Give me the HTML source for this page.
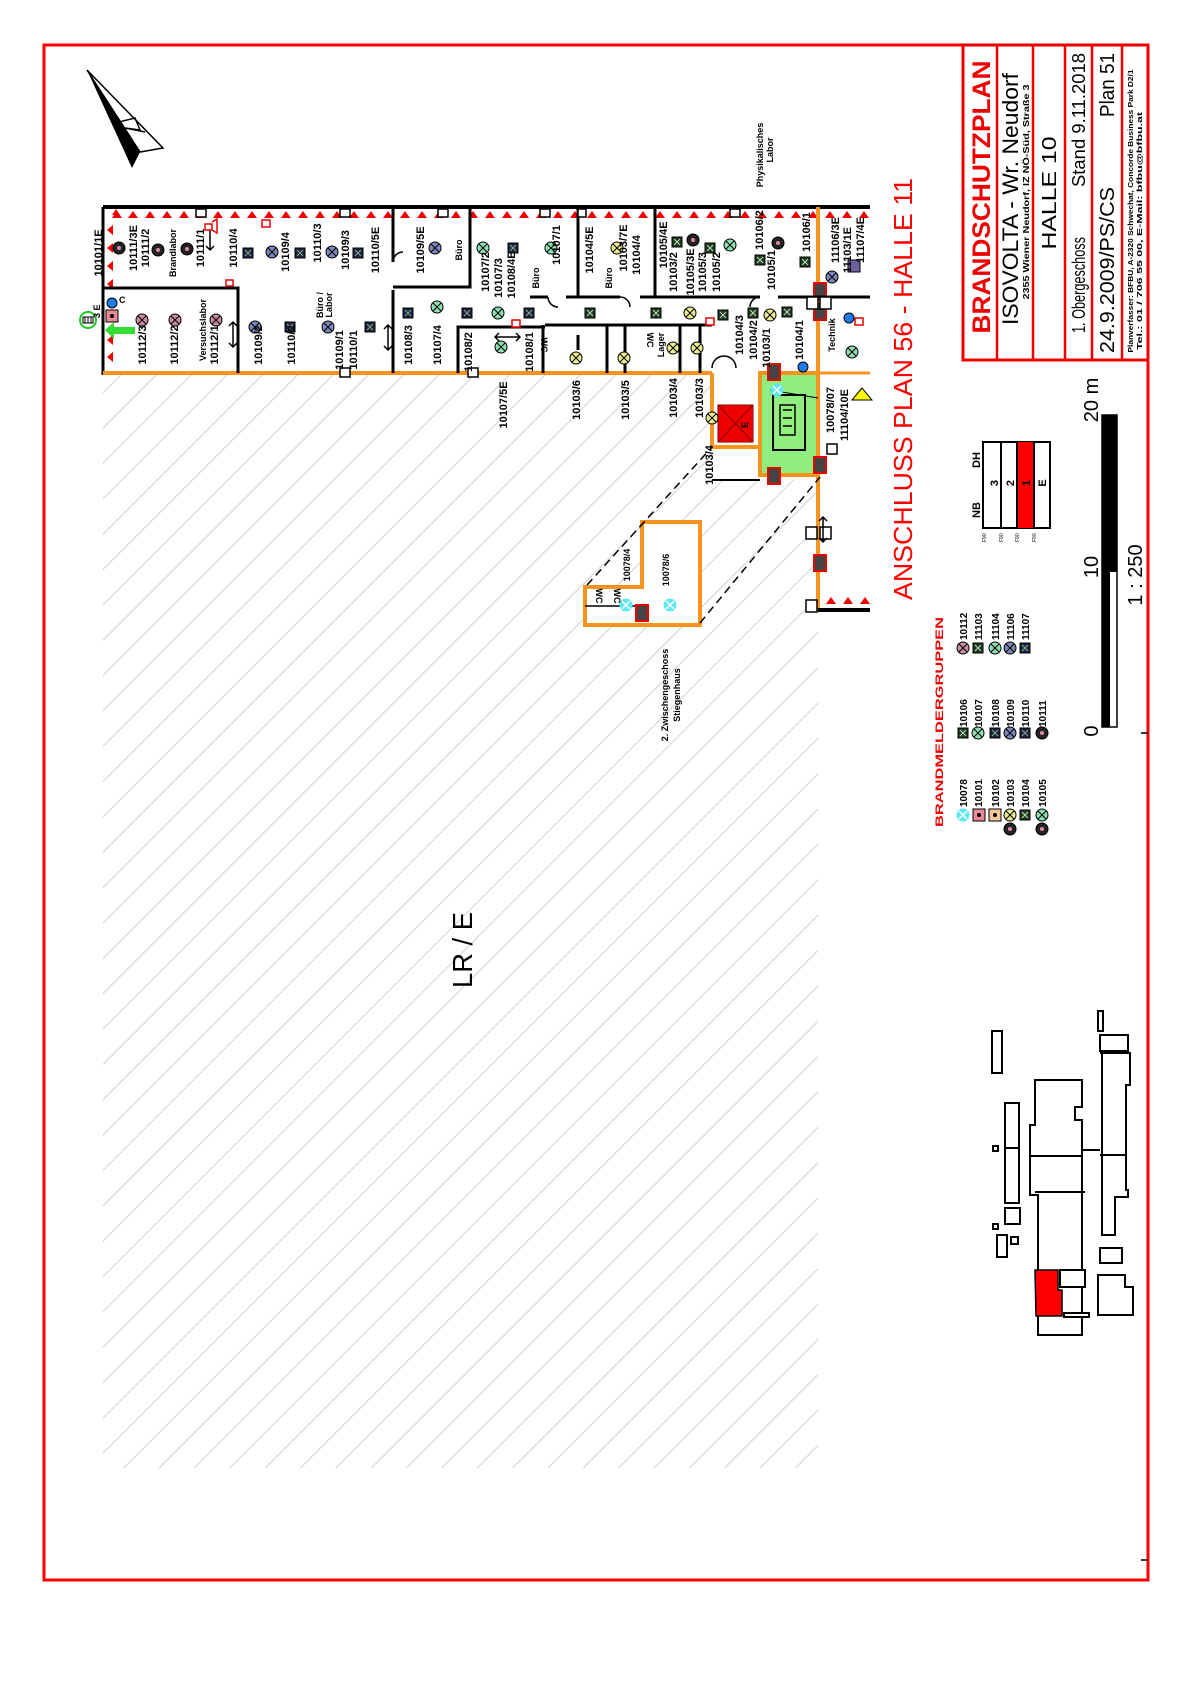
<!DOCTYPE html>
<html><head><meta charset="utf-8"><style>
html,body{margin:0;padding:0;background:#fff}
svg{display:block}
text{font-family:"Liberation Sans",sans-serif}
.l{font-size:11px;font-weight:bold;fill:#000}
.s{font-size:9px;font-weight:bold;fill:#000}
</style></head><body>
<svg width="1191" height="1684" viewBox="0 0 1191 1684" xmlns="http://www.w3.org/2000/svg">
<defs>
<pattern id="h" width="25" height="25" patternUnits="userSpaceOnUse" patternTransform="rotate(45)">
<line x1="0" y1="0" x2="0" y2="25" stroke="#d0d0d0" stroke-width="2"/>
</pattern>
<clipPath id="hc"><polygon points="103,373 712,373 712,480 818,480 818,1468 103,1468"/></clipPath>
<g id="sq"><rect x="-5" y="-5" width="10" height="10" fill="#1c2340" stroke="#000"/><path d="M-3,-3L3,3M3,-3L-3,3" stroke="#8a8" stroke-width="1"/></g>
<g id="sqg"><rect x="-5" y="-5" width="10" height="10" fill="#1f3a1f" stroke="#000"/><path d="M-3,-3L3,3M3,-3L-3,3" stroke="#bdb" stroke-width="1"/></g>
<g id="cb"><circle r="6" fill="#7c86b8" stroke="#000"/><path d="M-4,-4L4,4M4,-4L-4,4" stroke="#000"/></g>
<g id="cp"><circle r="6" fill="#c88aa0" stroke="#000"/><path d="M-4,-4L4,4M4,-4L-4,4" stroke="#000"/></g>
<g id="cg"><circle r="6" fill="#8fdcb0" stroke="#000"/><path d="M-4,-4L4,4M4,-4L-4,4" stroke="#000"/></g>
<g id="cy"><circle r="6" fill="#eaea90" stroke="#000"/><path d="M-4,-4L4,4M4,-4L-4,4" stroke="#000"/></g>
<g id="cc"><circle r="6" fill="#5ee8f0" stroke="#5ee8f0"/><path d="M-4,-4L4,4M4,-4L-4,4" stroke="#fff" stroke-width="1.5"/></g>
<g id="cd"><circle r="6" fill="#222" stroke="#000"/><circle r="2" fill="#d8a"/></g>
<g id="rb"><rect x="-6" y="-8" width="12" height="16" fill="#444" stroke="#e00" stroke-width="2"/></g>
</defs>

<!-- outer frame -->
<rect x="44" y="45" width="1104" height="1535" fill="none" stroke="#f00" stroke-width="3"/>

<!-- hatch -->
<rect x="103" y="373" width="717" height="1095" fill="url(#h)" clip-path="url(#hc)"/>
<rect x="585" y="587" width="115" height="38" fill="#fff"/>
<rect x="642" y="522" width="58" height="103" fill="#fff"/>
<rect x="712" y="447" width="48" height="33" fill="#fff"/>

<!-- north arrow -->
<polygon points="87,70 132,168 140,152 125,120" fill="#000"/>
<polygon points="87,70 163,148 140,152" fill="#fff" stroke="#000" stroke-width="1.5"/>
<path d="M115,123 L135,118 L140,130 L125,128 L145,132" fill="none" stroke="#000" stroke-width="1.5"/>

<!-- building main walls -->
<rect x="103" y="207" width="767" height="166" fill="#fff"/>
<line x1="103" y1="207" x2="870" y2="207" stroke="#000" stroke-width="4"/>
<line x1="103" y1="207" x2="103" y2="375" stroke="#000" stroke-width="3"/>
<g fill="#f00">
<polygon points="112,215 120,215 116,209" transform="translate(0,0)"/>
</g>
<!-- red triangles top -->
<g fill="#e00">
<path d="M112,218 l5,-7 l5,7z M128,218 l5,-7 l5,7z M145,218 l5,-7 l5,7z M162,218 l5,-7 l5,7z M179,218 l5,-7 l5,7z M196,218 l5,-7 l5,7z M213,218 l5,-7 l5,7z M230,218 l5,-7 l5,7z M247,218 l5,-7 l5,7z M264,218 l5,-7 l5,7z M281,218 l5,-7 l5,7z M298,218 l5,-7 l5,7z M315,218 l5,-7 l5,7z M332,218 l5,-7 l5,7z M349,218 l5,-7 l5,7z M366,218 l5,-7 l5,7z M383,218 l5,-7 l5,7z M400,218 l5,-7 l5,7z M417,218 l5,-7 l5,7z M434,218 l5,-7 l5,7z M451,218 l5,-7 l5,7z M468,218 l5,-7 l5,7z M485,218 l5,-7 l5,7z M502,218 l5,-7 l5,7z M519,218 l5,-7 l5,7z M536,218 l5,-7 l5,7z M553,218 l5,-7 l5,7z M570,218 l5,-7 l5,7z M587,218 l5,-7 l5,7z M604,218 l5,-7 l5,7z M621,218 l5,-7 l5,7z M638,218 l5,-7 l5,7z M655,218 l5,-7 l5,7z M672,218 l5,-7 l5,7z M689,218 l5,-7 l5,7z M706,218 l5,-7 l5,7z M723,218 l5,-7 l5,7z M740,218 l5,-7 l5,7z M757,218 l5,-7 l5,7z M774,218 l5,-7 l5,7z M791,218 l5,-7 l5,7z M808,218 l5,-7 l5,7z M825,218 l5,-7 l5,7z M842,218 l5,-7 l5,7z M859,218 l5,-7 l5,7z"/>
<path d="M113,225 l-6,5 l6,5z M113,243 l-6,5 l6,5z M113,261 l-6,5 l6,5z M113,279 l-6,5 l6,5z M113,335 l-6,5 l6,5z M113,352 l-6,5 l6,5z"/>
<path d="M826,604 l5,-7 l5,7z M843,604 l5,-7 l5,7z M860,604 l5,-7 l5,7z"/>
</g>
<line x1="103" y1="373" x2="712" y2="373" stroke="#f7941d" stroke-width="4"/>
<line x1="818" y1="207" x2="818" y2="612" stroke="#f7941d" stroke-width="4"/>
<line x1="820" y1="373" x2="870" y2="373" stroke="#f7941d" stroke-width="3"/>
<line x1="712" y1="373" x2="712" y2="449" stroke="#f7941d" stroke-width="4"/>
<line x1="712" y1="447" x2="760" y2="447" stroke="#f7941d" stroke-width="4"/>
<line x1="712" y1="480" x2="760" y2="480" stroke="#000" stroke-width="2"/>
<line x1="818" y1="610" x2="870" y2="610" stroke="#000" stroke-width="4"/>
<!-- stair -->
<rect x="760" y="373" width="58" height="102" fill="#90ee80" stroke="#f7941d" stroke-width="4"/>
<rect x="773" y="395" width="32" height="55" fill="none" stroke="#000" stroke-width="2"/>
<path d="M780,405 h15 v30 h-15 z M783,410 h9 M783,418 h9 M783,426 h9" fill="none" stroke="#000" stroke-width="1.5"/>
<line x1="770" y1="390" x2="818" y2="398" stroke="#000"/>
<use href="#cc" x="777" y="390"/>
<rect x="718" y="405" width="35" height="37" fill="#e00" stroke="#800"/>
<path d="M718,405 L753,442 M753,405 L718,442" stroke="#800"/>
<text class="s" transform="translate(748,425) rotate(-90)" text-anchor="middle">E</text>
<use href="#cy" x="712" y="418"/>
<use href="#rb" x="774" y="372"/>
<use href="#rb" x="774" y="476"/>
<use href="#rb" x="820" y="465"/>
<use href="#rb" x="820" y="563"/>
<use href="#rb" x="820" y="291"/>
<use href="#rb" x="820" y="312"/>
<!-- doors right -->
<rect x="806" y="527" width="11" height="12" fill="#fff" stroke="#000" stroke-width="1.5"/>
<rect x="820" y="527" width="11" height="12" fill="#fff" stroke="#000" stroke-width="1.5"/>
<rect x="806" y="600" width="11" height="12" fill="#fff" stroke="#000" stroke-width="1.5"/>
<rect x="827" y="444" width="10" height="10" fill="#fff" stroke="#000" stroke-width="1.5"/>
<polygon points="862,388 852,400 872,400" fill="#ff0" stroke="#000"/>

<!-- zwischengeschoss -->
<path d="M642,522 H700 V625 H585 V587 H642 Z" fill="#fff" stroke="#f7941d" stroke-width="4"/>
<line x1="585" y1="606" x2="642" y2="606" stroke="#000" stroke-width="1.5"/>
<line x1="587" y1="585" x2="712" y2="447" stroke="#000" stroke-width="1.5" stroke-dasharray="8,5"/>
<line x1="700" y1="623" x2="820" y2="477" stroke="#000" stroke-width="1.5" stroke-dasharray="8,5"/>
<use href="#cc" x="626" y="605"/>
<use href="#cc" x="670" y="605"/>
<use href="#rb" x="642" y="613"/>
<text class="s" transform="translate(596,596) rotate(90)" text-anchor="middle">WC</text>
<text class="s" transform="translate(614,596) rotate(90)" text-anchor="middle">WC</text>
<text class="s" transform="translate(669,570) rotate(-90)" text-anchor="middle">10078/6</text>
<text class="s" transform="translate(630,565) rotate(-90)" text-anchor="middle">10078/4</text>
<text class="s" transform="translate(668,695) rotate(-90)" text-anchor="middle">2. Zwischengeschoss</text>
<text class="s" transform="translate(680,695) rotate(-90)" text-anchor="middle">Stiegenhaus</text>

<!-- interior walls -->
<g stroke="#000" stroke-width="3" fill="none">
<path d="M103,288 H238 V373"/>
<path d="M393,207 V262 M393,290 V373"/>
<path d="M393,287 H470 V207"/>
<path d="M458,373 V327 H545"/>
<path d="M578,207 V297"/>
<path d="M530,297 H548 M566,297 H620 M640,297 H760"/>
<path d="M655,207 V297"/>
<path d="M545,325 H712"/>
<path d="M543,325 V373 M607,325 V373 M625,325 V373 M680,325 V373 M700,325 V373"/>
<path d="M778,297 H870"/>
<path d="M578,335 V350"/>
</g>
<g fill="#fff" stroke="#000" stroke-width="1.5">
<rect x="340" y="368" width="10" height="9"/><rect x="468" y="368" width="10" height="9"/>
<rect x="196" y="209" width="10" height="8"/><rect x="340" y="209" width="10" height="8"/>
<rect x="438" y="209" width="10" height="8"/><rect x="540" y="209" width="10" height="8"/>
<rect x="578" y="209" width="8" height="8"/><rect x="730" y="209" width="10" height="8"/>
<rect x="807" y="297" width="11" height="12"/><rect x="820" y="297" width="11" height="12"/>
</g>
<!-- door arrows -->
<g stroke="#000" stroke-width="1.5" fill="none">
<path d="M210,225 v25 M206,229 l4,-4 4,4 M206,246 l4,4 4,-4"/>
<path d="M233,322 v25 M229,326 l4,-4 4,4 M229,343 l4,4 4,-4"/>
<path d="M388,325 v25 M384,329 l4,-4 4,4 M384,346 l4,4 4,-4"/>
<path d="M495,337 h25 M499,333 l-4,4 4,4 M516,333 l4,4 -4,4"/>
<path d="M823,517 v25 M819,521 l4,-4 4,4 M819,538 l4,4 4,-4"/>
<path d="M712,368 a12,12 0 0 1 12,-12 M736,368 a12,12 0 0 0 -12,-12"/>
<path d="M548,297 a10,10 0 0 0 10,10 M620,297 a10,10 0 0 1 10,10 M760,297 a10,10 0 0 0 -10,10"/>
<path d="M393,262 a10,10 0 0 1 10,-10"/>
</g>
<!-- horns -->
<g fill="#fff" stroke="#e00" stroke-width="1.5">
<path d="M205,224 h7 v6 h-7z M212,222 l5,-3 v14 l-5,-3"/>
<path d="M226,280 h7 v6 h-7z"/>
<path d="M262,220 h8 v7 h-8z"/>
<path d="M512,320 h8 v7 h-8z"/>
<path d="M706,318 h8 v7 h-8z"/>
<path d="M855,318 h8 v7 h-8z"/>
</g>

<!-- exit symbols -->
<circle cx="88" cy="320" r="8" fill="#fff" stroke="#2c2" stroke-width="2"/>
<path d="M83,317 h10 v6 h-10z M85,317 v6 M88,317 v6 M91,317 v6" stroke="#000" fill="none"/>
<circle cx="112" cy="303" r="5" fill="#1e7be8" stroke="#000"/>
<rect x="106" y="310" width="12" height="12" fill="#e8899a" stroke="#000"/>
<circle cx="112" cy="316" r="2" fill="#000"/>
<polygon points="105,330 114,322 114,327 135,327 135,334 114,334 114,339" fill="#3d3"/>
<text class="s" transform="translate(119,303)">C</text>
<text class="s" transform="translate(100,318) rotate(-90)">3 E</text>

<!-- detectors -->
<use href="#cd" x="119" y="248"/><use href="#cd" x="158" y="250"/><use href="#cd" x="187" y="249"/>
<use href="#sq" x="248" y="253"/><use href="#sq" x="300" y="253"/><use href="#sq" x="358" y="253"/>
<use href="#sq" x="290" y="327"/><use href="#sq" x="370" y="327"/><use href="#sq" x="408" y="313"/>
<use href="#sq" x="467" y="313"/><use href="#sq" x="529" y="313"/><use href="#sq" x="513" y="248"/>
<use href="#cb" x="272" y="252"/><use href="#cb" x="332" y="252"/><use href="#cb" x="255" y="327"/>
<use href="#cb" x="328" y="327"/><use href="#cb" x="435" y="248"/>
<use href="#cp" x="142" y="320"/><use href="#cp" x="175" y="320"/><use href="#cp" x="216" y="320"/>
<use href="#cg" x="483" y="248"/><use href="#cg" x="437" y="307"/><use href="#cg" x="498" y="313"/><use href="#cg" x="501" y="347"/>
<use href="#cg" x="551" y="248"/><use href="#cy" x="617" y="248"/>
<use href="#sqg" x="590" y="313"/><use href="#sqg" x="656" y="313"/><use href="#cy" x="690" y="313"/>
<use href="#sqg" x="723" y="315"/><use href="#sqg" x="753" y="313"/><use href="#cy" x="770" y="315"/><use href="#sqg" x="787" y="312"/>
<use href="#sqg" x="677" y="242"/><use href="#sqg" x="710" y="248"/><use href="#sqg" x="760" y="260"/><use href="#sqg" x="805" y="262"/>
<use href="#cd" x="693" y="240"/><use href="#cg" x="730" y="245"/><use href="#cd" x="778" y="243"/>
<use href="#cy" x="576" y="358"/><use href="#cy" x="624" y="358"/><use href="#cy" x="673" y="348"/><use href="#cy" x="697" y="348"/>
<use href="#cg" x="852" y="352"/><use href="#cb" x="832" y="277"/>
<rect x="848" y="260" width="12" height="12" fill="#7060a0" stroke="#000"/>
<circle cx="849" cy="318" r="5" fill="#1e7be8" stroke="#000"/>
<circle cx="803" cy="367" r="5" fill="#1e7be8" stroke="#000"/>

<!-- room labels -->
<g class="l">
<text class="l" transform="translate(102,253) rotate(-90)" text-anchor="middle">10101/1E</text>
<text class="l" transform="translate(137,248) rotate(-90)" text-anchor="middle">10111/3E</text>
<text class="l" transform="translate(149,248) rotate(-90)" text-anchor="middle">10111/2</text>
<text class="s" transform="translate(176,253) rotate(-90)" text-anchor="middle">Brandlabor</text>
<text class="l" transform="translate(204,248) rotate(-90)" text-anchor="middle">10111/1</text>
<text class="l" transform="translate(237,248) rotate(-90)" text-anchor="middle">10110/4</text>
<text class="l" transform="translate(289,252) rotate(-90)" text-anchor="middle">10109/4</text>
<text class="l" transform="translate(321,243) rotate(-90)" text-anchor="middle">10110/3</text>
<text class="l" transform="translate(349,250) rotate(-90)" text-anchor="middle">10109/3</text>
<text class="l" transform="translate(379,250) rotate(-90)" text-anchor="middle">10110/5E</text>
<text class="l" transform="translate(424,250) rotate(-90)" text-anchor="middle">10109/5E</text>
<text class="s" transform="translate(462,250) rotate(-90)" text-anchor="middle">Büro</text>
<text class="l" transform="translate(489,272) rotate(-90)" text-anchor="middle">10107/2</text>
<text class="l" transform="translate(502,278) rotate(-90)" text-anchor="middle">10107/3</text>
<text class="l" transform="translate(515,275) rotate(-90)" text-anchor="middle">10108/4E</text>
<text class="s" transform="translate(539,278) rotate(-90)" text-anchor="middle">Büro</text>
<text class="l" transform="translate(560,245) rotate(-90)" text-anchor="middle">10107/1</text>
<text class="l" transform="translate(593,250) rotate(-90)" text-anchor="middle">10104/5E</text>
<text class="s" transform="translate(612,278) rotate(-90)" text-anchor="middle">Büro</text>
<text class="l" transform="translate(627,248) rotate(-90)" text-anchor="middle">10103/7E</text>
<text class="l" transform="translate(640,255) rotate(-90)" text-anchor="middle">10104/4</text>
<text class="l" transform="translate(667,245) rotate(-90)" text-anchor="middle">10105/4E</text>
<text class="l" transform="translate(677,272) rotate(-90)" text-anchor="middle">10103/2</text>
<text class="l" transform="translate(694,272) rotate(-90)" text-anchor="middle">10105/3E</text>
<text class="l" transform="translate(706,272) rotate(-90)" text-anchor="middle">10105/3</text>
<text class="l" transform="translate(720,272) rotate(-90)" text-anchor="middle">10105/2</text>
<text class="l" transform="translate(763,230) rotate(-90)" text-anchor="middle">10106/2</text>
<text class="l" transform="translate(775,270) rotate(-90)" text-anchor="middle">10105/1</text>
<text class="l" transform="translate(810,232) rotate(-90)" text-anchor="middle">10106/1</text>
<text class="s" transform="translate(763,155) rotate(-90)" text-anchor="middle">Physikalisches</text>
<text class="s" transform="translate(773,150) rotate(-90)" text-anchor="middle">Labor</text>
<text class="l" transform="translate(839,240) rotate(-90)" text-anchor="middle">11106/3E</text>
<text class="l" transform="translate(851,250) rotate(-90)" text-anchor="middle">11103/1E</text>
<text class="l" transform="translate(864,240) rotate(-90)" text-anchor="middle">11107/4E</text>
<text class="l" transform="translate(146,345) rotate(-90)" text-anchor="middle">10112/3</text>
<text class="l" transform="translate(178,345) rotate(-90)" text-anchor="middle">10112/2</text>
<text class="s" transform="translate(206,330) rotate(-90)" text-anchor="middle">Versuchslabor</text>
<text class="l" transform="translate(218,345) rotate(-90)" text-anchor="middle">10112/1</text>
<text class="l" transform="translate(262,345) rotate(-90)" text-anchor="middle">10109/2</text>
<text class="l" transform="translate(295,345) rotate(-90)" text-anchor="middle">10110/2</text>
<text class="s" transform="translate(323,305) rotate(-90)" text-anchor="middle">Büro /</text>
<text class="s" transform="translate(332,305) rotate(-90)" text-anchor="middle">Labor</text>
<text class="l" transform="translate(343,350) rotate(-90)" text-anchor="middle">10109/1</text>
<text class="l" transform="translate(357,350) rotate(-90)" text-anchor="middle">10110/1</text>
<text class="l" transform="translate(412,345) rotate(-90)" text-anchor="middle">10108/3</text>
<text class="l" transform="translate(441,345) rotate(-90)" text-anchor="middle">10107/4</text>
<text class="l" transform="translate(472,352) rotate(-90)" text-anchor="middle">10108/2</text>
<text class="l" transform="translate(533,352) rotate(-90)" text-anchor="middle">10108/1</text>
<text class="l" transform="translate(507,405) rotate(-90)" text-anchor="middle">10107/5E</text>
<text class="l" transform="translate(580,400) rotate(-90)" text-anchor="middle">10103/6</text>
<text class="l" transform="translate(629,400) rotate(-90)" text-anchor="middle">10103/5</text>
<text class="l" transform="translate(677,398) rotate(-90)" text-anchor="middle">10103/4</text>
<text class="l" transform="translate(703,398) rotate(-90)" text-anchor="middle">10103/3</text>
<text class="l" transform="translate(713,465) rotate(-90)" text-anchor="middle">10103/4</text>
<text class="l" transform="translate(743,335) rotate(-90)" text-anchor="middle">10104/3</text>
<text class="l" transform="translate(757,340) rotate(-90)" text-anchor="middle">10104/2</text>
<text class="l" transform="translate(770,348) rotate(-90)" text-anchor="middle">10103/1</text>
<text class="l" transform="translate(803,340) rotate(-90)" text-anchor="middle">10104/1</text>
<text class="l" transform="translate(834,410) rotate(-90)" text-anchor="middle">10078/07</text>
<text class="l" transform="translate(848,415) rotate(-90)" text-anchor="middle">11104/10E</text>
<text class="s" transform="translate(835,335) rotate(-90)" text-anchor="middle">Technik</text>
</g>
<text class="s" transform="translate(541,345) rotate(90)" text-anchor="middle">WC</text>
<text class="s" transform="translate(647,340) rotate(90)" text-anchor="middle">WC</text>
<text class="s" transform="translate(664,345) rotate(-90)" text-anchor="middle">Lager</text>

<!-- ANSCHLUSS -->
<text transform="translate(912,389) rotate(-90)" text-anchor="middle" font-size="26" fill="#f00" textLength="422" lengthAdjust="spacingAndGlyphs">ANSCHLUSS  PLAN 56 - HALLE 11</text>

<!-- LR/E -->
<text transform="translate(472,950) rotate(-90)" text-anchor="middle" font-size="28" fill="#000" textLength="76" lengthAdjust="spacingAndGlyphs">LR / E</text>

<!-- title block -->
<rect x="963" y="45" width="185" height="315" fill="#fff" stroke="#e00" stroke-width="3"/>
<g stroke="#e00" stroke-width="2.5">
<line x1="997" y1="45" x2="997" y2="360"/><line x1="1033" y1="45" x2="1033" y2="360"/>
<line x1="1065" y1="45" x2="1065" y2="360"/><line x1="1092" y1="45" x2="1092" y2="360"/>
<line x1="1122" y1="45" x2="1122" y2="360"/>
</g>
<text transform="translate(990,197) rotate(-90)" text-anchor="middle" font-size="25" font-weight="bold" fill="#e00" textLength="273" lengthAdjust="spacingAndGlyphs">BRANDSCHUTZPLAN</text>
<text transform="translate(1018,199) rotate(-90)" text-anchor="middle" font-size="22" fill="#000" textLength="252" lengthAdjust="spacingAndGlyphs">ISOVOLTA - Wr. Neudorf</text>
<text transform="translate(1029,192) rotate(-90)" text-anchor="middle" font-size="8" font-weight="bold" fill="#000" textLength="215" lengthAdjust="spacingAndGlyphs">2355 Wiener Neudorf, IZ NÖ-Süd, Straße 3</text>
<text transform="translate(1056,193) rotate(-90)" text-anchor="middle" font-size="20" fill="#000" textLength="113" lengthAdjust="spacingAndGlyphs">HALLE 10</text>
<text transform="translate(1085,285) rotate(-90)" text-anchor="middle" font-size="18" fill="#000" textLength="96" lengthAdjust="spacingAndGlyphs">1. Obergeschoss</text>
<text transform="translate(1085,120) rotate(-90)" text-anchor="middle" font-size="18" fill="#000" textLength="134" lengthAdjust="spacingAndGlyphs">Stand 9.11.2018</text>
<text transform="translate(1114,270) rotate(-90)" text-anchor="middle" font-size="20" fill="#000" textLength="166" lengthAdjust="spacingAndGlyphs">24.9.2009/PS/CS</text>
<text transform="translate(1114,85) rotate(-90)" text-anchor="middle" font-size="20" fill="#000" textLength="64" lengthAdjust="spacingAndGlyphs">Plan 51</text>
<text transform="translate(1133,211) rotate(-90)" text-anchor="middle" font-size="7" font-weight="bold" fill="#000" textLength="283" lengthAdjust="spacingAndGlyphs">Planverfasser: BFBU, A-2320 Schwechat, Concorde Business Park D2/1</text>
<text transform="translate(1142,231) rotate(-90)" text-anchor="middle" font-size="7" font-weight="bold" fill="#000" textLength="238" lengthAdjust="spacingAndGlyphs">Tel.: 01 / 706 55 00, E-Mail: bfbu@bfbu.at</text>

<!-- NB/DH box -->
<rect x="983" y="442" width="67" height="86" fill="#fff" stroke="#000" stroke-width="2"/>
<rect x="1017" y="442" width="17" height="86" fill="#f00"/>
<g stroke="#000" stroke-width="2"><line x1="1001" y1="442" x2="1001" y2="528"/><line x1="1017" y1="442" x2="1017" y2="528"/><line x1="1034" y1="442" x2="1034" y2="528"/></g>
<g font-size="11" font-weight="bold" fill="#000">
<text transform="translate(998,483) rotate(-90)" text-anchor="middle">3</text>
<text transform="translate(1014,483) rotate(-90)" text-anchor="middle">2</text>
<text transform="translate(1030,483) rotate(-90)" text-anchor="middle">1</text>
<text transform="translate(1046,483) rotate(-90)" text-anchor="middle">E</text>
<text transform="translate(980,510) rotate(-90)" text-anchor="middle">NB</text>
<text transform="translate(980,460) rotate(-90)" text-anchor="middle">DH</text>
</g>
<g font-size="5" fill="#000"><text transform="translate(986,542) rotate(-90)">F90</text><text transform="translate(1003,542) rotate(-90)">F90</text><text transform="translate(1019,542) rotate(-90)">F90</text><text transform="translate(1036,542) rotate(-90)">F90</text></g>

<!-- legend -->
<text transform="translate(943,722) rotate(-90)" text-anchor="middle" font-size="11" font-weight="bold" fill="#e00" textLength="210" lengthAdjust="spacingAndGlyphs">BRANDMELDERGRUPPEN</text>
<g font-size="10" font-weight="bold" fill="#000">
<text transform="translate(967,807) rotate(-90)">10078</text><text transform="translate(982,807) rotate(-90)">10101</text><text transform="translate(999,807) rotate(-90)">10102</text><text transform="translate(1014,807) rotate(-90)">10103</text><text transform="translate(1029,807) rotate(-90)">10104</text><text transform="translate(1046,807) rotate(-90)">10105</text>
<text transform="translate(967,727) rotate(-90)">10106</text><text transform="translate(982,727) rotate(-90)">10107</text><text transform="translate(999,727) rotate(-90)">10108</text><text transform="translate(1014,727) rotate(-90)">10109</text><text transform="translate(1029,727) rotate(-90)">10110</text><text transform="translate(1046,727) rotate(-90)">10111</text>
<text transform="translate(967,640) rotate(-90)">10112</text><text transform="translate(982,640) rotate(-90)">11103</text><text transform="translate(999,640) rotate(-90)">11104</text><text transform="translate(1014,640) rotate(-90)">11106</text><text transform="translate(1029,640) rotate(-90)">11107</text>
</g>
<use href="#cc" x="963" y="815"/>
<rect x="973" y="809" width="12" height="12" fill="#e8899a" stroke="#000"/><circle cx="979" cy="815" r="2" fill="#000"/>
<rect x="989" y="809" width="12" height="12" fill="#f5c89a" stroke="#000"/><circle cx="995" cy="815" r="2" fill="#000"/>
<use href="#cy" x="1010" y="815"/><use href="#cd" x="1010" y="829"/>
<use href="#sqg" x="1025" y="815"/>
<use href="#cg" x="1042" y="815"/><use href="#cd" x="1042" y="829"/>
<use href="#sqg" x="963" y="733"/><use href="#cg" x="978" y="733"/><use href="#sq" x="995" y="733"/>
<use href="#cb" x="1010" y="733"/><use href="#sq" x="1025" y="733"/><use href="#cd" x="1042" y="733"/>
<use href="#cp" x="963" y="648"/><use href="#sqg" x="978" y="648"/><use href="#cg" x="995" y="648"/>
<use href="#cb" x="1010" y="648"/><use href="#sq" x="1025" y="648"/>

<!-- scale bar -->
<rect x="1102" y="415" width="15" height="312" fill="#fff" stroke="#000" stroke-width="1.5"/>
<rect x="1102" y="415" width="15" height="157" fill="#000"/>
<rect x="1102" y="572" width="8" height="155" fill="#000"/>
<g font-size="20" fill="#000">
<text transform="translate(1098,400) rotate(-90)" text-anchor="middle">20 m</text>
<text transform="translate(1098,567) rotate(-90)" text-anchor="middle">10</text>
<text transform="translate(1098,731) rotate(-90)" text-anchor="middle">0</text>
<text transform="translate(1142,575) rotate(-90)" text-anchor="middle">1 : 250</text>
</g>
<line x1="1141" y1="733" x2="1148" y2="733" stroke="#000" stroke-width="1.5"/>
<line x1="1141" y1="1560" x2="1148" y2="1560" stroke="#000" stroke-width="1.5"/>

<!-- site plan -->
<g fill="#fff" stroke="#000" stroke-width="2">
<rect x="992" y="1031" width="10" height="42"/>
<rect x="1005" y="1103" width="14" height="100"/>
<line x1="1005" y1="1148" x2="1019" y2="1148"/>
<rect x="993" y="1146" width="5" height="5"/>
<rect x="1005" y="1208" width="15" height="16"/>
<rect x="993" y="1224" width="5" height="5"/>
<rect x="997" y="1235" width="10" height="22"/>
<rect x="1011" y="1237" width="7" height="7"/>
<path d="M1035,1080 H1082 V1107 H1075 V1120 H1082 V1335 H1038 V1195 H1030 V1125 H1035 Z"/>
<line x1="1030" y1="1156" x2="1082" y2="1156"/>
<line x1="1035" y1="1192" x2="1085" y2="1192"/>
<line x1="1082" y1="1150" x2="1100" y2="1150"/>
<rect x="1100" y="1035" width="28" height="16"/>
<rect x="1098" y="1011" width="5" height="20"/>
<path d="M1100,1053 H1130 V1085 H1126 V1190 H1128 V1197 H1115 V1235 H1102 V1053 Z"/>
<line x1="1100" y1="1155" x2="1126" y2="1155"/>
<rect x="1100" y="1248" width="22" height="15"/>
<path d="M1098,1275 H1125 V1287 H1133 V1315 H1098 Z"/>
<rect x="1060" y="1270" width="25" height="17"/>
<rect x="1064" y="1313" width="25" height="4"/>
</g>
<path d="M1035,1270 H1058 V1290 H1062 V1316 H1036 Z" fill="#f00" stroke="#000" stroke-width="1.5"/>
</svg>
</body></html>
